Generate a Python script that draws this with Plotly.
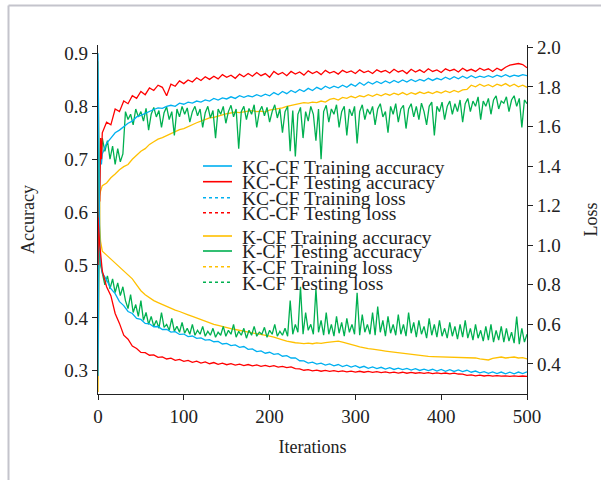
import plotly.graph_objects as go

# ---------------- data ----------------
iterations = [0, 1, 2, 3, 4] + list(range(5, 501, 5))
iterations_kcf_test = [0, 1, 2, 3, 4] + list(range(5, 501, 3))

kccf_train_acc = [0.29, 0.55, 0.68, 0.70, 0.69, 0.71, 0.73, 0.74, 0.75, 0.755, 0.762, 0.768, 0.772, 0.78, 0.783,
                  0.787, 0.79, 0.794, 0.797, 0.796, 0.80, 0.802, 0.80, 0.806, 0.804, 0.808, 0.806, 0.81, 0.808,
                  0.812, 0.81, 0.815, 0.812, 0.816, 0.814, 0.818, 0.815, 0.82, 0.817, 0.82, 0.818, 0.822, 0.819,
                  0.823, 0.82, 0.826, 0.822, 0.828, 0.824, 0.83, 0.826, 0.832, 0.828, 0.834, 0.83, 0.836, 0.832,
                  0.838, 0.834, 0.838, 0.835, 0.84, 0.836, 0.842, 0.838, 0.845, 0.84, 0.846, 0.842, 0.847, 0.843,
                  0.848, 0.844, 0.849, 0.845, 0.85, 0.846, 0.851, 0.847, 0.851, 0.848, 0.853, 0.849, 0.853, 0.85,
                  0.855, 0.851, 0.856, 0.852, 0.857, 0.853, 0.858, 0.854, 0.857, 0.855, 0.858, 0.855, 0.859, 0.856,
                  0.86, 0.856, 0.859, 0.857, 0.86, 0.858]

kccf_test_acc = [0.50, 0.68, 0.62, 0.74, 0.70, 0.75, 0.77, 0.765, 0.795, 0.79, 0.81, 0.805, 0.82, 0.815, 0.828,
                 0.822, 0.835, 0.83, 0.84, 0.836, 0.82, 0.842, 0.838, 0.848, 0.843, 0.85, 0.846, 0.854, 0.849,
                 0.856, 0.851, 0.857, 0.852, 0.86, 0.855, 0.859, 0.853, 0.861, 0.856, 0.862, 0.857, 0.864, 0.858,
                 0.862, 0.855, 0.866, 0.86, 0.864, 0.858, 0.866, 0.861, 0.865, 0.859, 0.867, 0.862, 0.866, 0.86,
                 0.868, 0.863, 0.866, 0.861, 0.868, 0.864, 0.867, 0.862, 0.869, 0.864, 0.867, 0.862, 0.869, 0.865,
                 0.868, 0.863, 0.87, 0.865, 0.868, 0.862, 0.87, 0.865, 0.869, 0.864, 0.871, 0.866, 0.869, 0.864,
                 0.871, 0.867, 0.87, 0.865, 0.872, 0.867, 0.87, 0.866, 0.872, 0.868, 0.871, 0.866, 0.872, 0.868,
                 0.874, 0.878, 0.88, 0.881, 0.879, 0.873]

kccf_train_loss = [1.97, 1.30, 1.00, 0.92, 0.88, 0.86, 0.825, 0.78, 0.755, 0.715, 0.695, 0.665, 0.655, 0.63, 0.625,
                   0.605, 0.603, 0.588, 0.589, 0.574, 0.575, 0.561, 0.563, 0.549, 0.551, 0.538, 0.541, 0.529, 0.532,
                   0.52, 0.523, 0.512, 0.514, 0.501, 0.504, 0.493, 0.496, 0.484, 0.488, 0.474, 0.476, 0.462, 0.466,
                   0.454, 0.459, 0.448, 0.452, 0.439, 0.442, 0.43, 0.431, 0.416, 0.415, 0.404, 0.409, 0.399, 0.404,
                   0.394, 0.40, 0.39, 0.397, 0.387, 0.394, 0.384, 0.391, 0.381, 0.388, 0.378, 0.385, 0.376, 0.383,
                   0.374, 0.381, 0.372, 0.379, 0.371, 0.377, 0.369, 0.376, 0.367, 0.374, 0.366, 0.373, 0.364, 0.372,
                   0.363, 0.371, 0.362, 0.37, 0.361, 0.368, 0.358, 0.364, 0.355, 0.361, 0.352, 0.36, 0.351, 0.359,
                   0.35, 0.358, 0.35, 0.359, 0.351, 0.36]

kccf_test_loss = [1.14, 1.05, 1.00, 0.96, 0.90, 0.87, 0.79, 0.745, 0.655, 0.605, 0.545, 0.525, 0.49, 0.478, 0.458,
                  0.457, 0.444, 0.446, 0.433, 0.436, 0.425, 0.429, 0.418, 0.423, 0.413, 0.418, 0.408, 0.414, 0.404,
                  0.41, 0.401, 0.407, 0.398, 0.404, 0.396, 0.401, 0.394, 0.399, 0.392, 0.397, 0.39, 0.395, 0.388,
                  0.393, 0.386, 0.391, 0.384, 0.388, 0.381, 0.385, 0.376, 0.375, 0.368, 0.371, 0.365, 0.369, 0.363,
                  0.367, 0.362, 0.366, 0.361, 0.365, 0.36, 0.364, 0.359, 0.363, 0.358, 0.362, 0.357, 0.361, 0.356,
                  0.36, 0.355, 0.359, 0.354, 0.358, 0.353, 0.357, 0.353, 0.356, 0.352, 0.356, 0.351, 0.355, 0.351,
                  0.354, 0.35, 0.353, 0.349, 0.348, 0.342, 0.345, 0.34, 0.343, 0.339, 0.342, 0.338, 0.341, 0.338,
                  0.34, 0.337, 0.34, 0.337, 0.339, 0.337]

kcf_train_acc = [0.26, 0.55, 0.63, 0.64, 0.645, 0.65, 0.655, 0.665, 0.672, 0.68, 0.686, 0.69, 0.70, 0.708, 0.715,
                 0.72, 0.728, 0.733, 0.738, 0.741, 0.745, 0.749, 0.752, 0.756, 0.758, 0.762, 0.765, 0.769, 0.772,
                 0.775, 0.778, 0.779, 0.782, 0.784, 0.786, 0.787, 0.789, 0.788, 0.79, 0.791, 0.792, 0.79, 0.791,
                 0.789, 0.793, 0.794, 0.795, 0.797, 0.80, 0.802, 0.804, 0.806, 0.807, 0.806, 0.808, 0.807, 0.81,
                 0.808, 0.813, 0.815, 0.812, 0.817, 0.815, 0.819, 0.816, 0.82, 0.818, 0.822, 0.819, 0.823, 0.82,
                 0.824, 0.821, 0.825, 0.822, 0.826, 0.822, 0.826, 0.823, 0.827, 0.824, 0.827, 0.824, 0.828, 0.825,
                 0.829, 0.826, 0.83, 0.827, 0.831, 0.832, 0.84, 0.837, 0.842, 0.838, 0.841, 0.837, 0.842, 0.839,
                 0.843, 0.838, 0.842, 0.837, 0.84, 0.836]

kcf_test_acc = [0.41, 0.62, 0.68, 0.72, 0.70,
                0.74, 0.715, 0.735, 0.70, 0.725, 0.69, 0.72, 0.695, 0.71,
                0.79, 0.775, 0.785, 0.765, 0.795, 0.78, 0.79, 0.772, 0.796, 0.755, 0.785, 0.798,
                0.78, 0.792, 0.76, 0.788, 0.799, 0.775, 0.79, 0.745, 0.795, 0.78, 0.80, 0.785,
                0.797, 0.77, 0.79, 0.80, 0.782, 0.795, 0.76, 0.788, 0.80, 0.778, 0.792, 0.74,
                0.795, 0.785, 0.80, 0.768, 0.79, 0.802, 0.78, 0.795, 0.72, 0.79, 0.80, 0.775,
                0.796, 0.785, 0.803, 0.76, 0.79, 0.80, 0.782, 0.798, 0.77, 0.79, 0.803, 0.778,
                0.795, 0.75, 0.79, 0.80, 0.715, 0.792, 0.705, 0.785, 0.798, 0.74, 0.79, 0.772,
                0.80, 0.785, 0.735, 0.795, 0.70, 0.79, 0.802, 0.77, 0.795, 0.785, 0.803, 0.76,
                0.79, 0.80, 0.745, 0.795, 0.782, 0.80, 0.73, 0.79, 0.803, 0.775, 0.795, 0.785,
                0.80, 0.765, 0.795, 0.805, 0.78, 0.79, 0.75, 0.80, 0.785, 0.805, 0.77, 0.795,
                0.802, 0.758, 0.795, 0.805, 0.78, 0.80, 0.775, 0.806, 0.79, 0.765, 0.80, 0.808,
                0.745, 0.80, 0.79, 0.808, 0.775, 0.80, 0.81, 0.785, 0.805, 0.79, 0.812, 0.77,
                0.805, 0.815, 0.79, 0.81, 0.80, 0.818, 0.775, 0.81, 0.80, 0.815, 0.785, 0.812,
                0.82, 0.795, 0.81, 0.806, 0.818, 0.79, 0.812, 0.82, 0.80, 0.815, 0.76, 0.812,
                0.805]

kcf_train_loss = [1.93, 1.40, 1.10, 1.02, 0.99, 0.97, 0.95, 0.93, 0.91, 0.89, 0.875, 0.85, 0.83, 0.80, 0.77,
                  0.75, 0.735, 0.72, 0.71, 0.70, 0.69, 0.68, 0.672, 0.665, 0.655, 0.648, 0.64, 0.632, 0.625,
                  0.615, 0.61, 0.60, 0.595, 0.588, 0.582, 0.578, 0.574, 0.57, 0.566, 0.562, 0.558, 0.555, 0.55,
                  0.545, 0.54, 0.535, 0.53, 0.522, 0.515, 0.51, 0.507, 0.505, 0.503, 0.505, 0.502, 0.506, 0.504,
                  0.508, 0.51, 0.512, 0.515, 0.51, 0.503, 0.497, 0.492, 0.486, 0.481, 0.477, 0.475, 0.47, 0.468,
                  0.465, 0.462, 0.46, 0.457, 0.455, 0.45, 0.447, 0.445, 0.443, 0.44, 0.438, 0.437, 0.436, 0.435,
                  0.434, 0.433, 0.433, 0.432, 0.432, 0.431, 0.428, 0.43, 0.425, 0.422, 0.42, 0.428, 0.432, 0.435,
                  0.43, 0.433, 0.435, 0.43, 0.432, 0.425]

kcf_test_loss = [1.72, 1.20, 0.95, 0.90, 0.87,
                 0.86, 0.80, 0.845, 0.78, 0.83, 0.76, 0.81, 0.745, 0.79,
                 0.72, 0.68, 0.75, 0.66, 0.70, 0.64, 0.72, 0.62, 0.66, 0.60, 0.64, 0.59,
                 0.62, 0.58, 0.66, 0.585, 0.60, 0.57, 0.63, 0.565, 0.59, 0.56, 0.61, 0.555,
                 0.58, 0.55, 0.60, 0.545, 0.57, 0.55, 0.59, 0.54, 0.565, 0.545, 0.58, 0.535,
                 0.56, 0.545, 0.59, 0.54, 0.57, 0.55, 0.60, 0.535, 0.565, 0.545, 0.58, 0.53,
                 0.57, 0.545, 0.59, 0.54, 0.56, 0.55, 0.585, 0.535, 0.57, 0.55, 0.60, 0.54,
                 0.565, 0.545, 0.58, 0.54, 0.72, 0.55, 0.60, 0.56, 0.79, 0.55, 0.66, 0.57,
                 0.60, 0.55, 0.78, 0.56, 0.62, 0.545, 0.66, 0.55, 0.60, 0.54, 0.64, 0.555,
                 0.61, 0.54, 0.63, 0.56, 0.60, 0.55, 0.76, 0.545, 0.65, 0.56, 0.60, 0.55,
                 0.66, 0.545, 0.69, 0.56, 0.62, 0.54, 0.64, 0.555, 0.60, 0.545, 0.65, 0.55,
                 0.60, 0.54, 0.66, 0.555, 0.61, 0.535, 0.62, 0.55, 0.59, 0.53, 0.63, 0.545,
                 0.60, 0.535, 0.62, 0.54, 0.58, 0.53, 0.61, 0.54, 0.59, 0.525, 0.60, 0.535,
                 0.62, 0.53, 0.58, 0.52, 0.60, 0.53, 0.57, 0.515, 0.59, 0.52, 0.60, 0.51,
                 0.57, 0.52, 0.59, 0.51, 0.58, 0.515, 0.56, 0.505, 0.64, 0.50, 0.58, 0.51,
                 0.55]

legend_names = ["KC-CF Training accuracy", "KC-CF Testing accuracy", "KC-CF Training loss", "KC-CF Testing loss",
                "K-CF Training accuracy", "K-CF Testing accuracy", "K-CF Training loss", "K-CF Testing loss"]
x_ticks = [0, 100, 200, 300, 400, 500]
acc_ticks = [0.3, 0.4, 0.5, 0.6, 0.7, 0.8, 0.9]
loss_ticks = [0.4, 0.6, 0.8, 1.0, 1.2, 1.4, 1.6, 1.8, 2.0]

# ---------------- styles ----------------
BLUE, RED, YELLOW, GREEN = "#00B0F0", "#FF0000", "#FFC000", "#00B050"
FONT = "Liberation Serif, Times New Roman, serif"
TXT = "#222222"

series = [
    (iterations, kcf_train_acc, YELLOW, "y"), (iterations_kcf_test, kcf_test_acc, GREEN, "y"),
    (iterations, kccf_train_acc, BLUE, "y"), (iterations, kccf_test_acc, RED, "y"),
    (iterations, kcf_train_loss, YELLOW, "y2"), (iterations_kcf_test, kcf_test_loss, GREEN, "y2"),
    (iterations, kccf_train_loss, BLUE, "y2"), (iterations, kccf_test_loss, RED, "y2"),
]

fig = go.Figure()
for xs, vals, col, ax in series:
    fig.add_trace(go.Scatter(x=xs, y=vals, mode="lines", yaxis=ax,
                             line=dict(color=col, width=1.3), showlegend=False,
                             hoverinfo="skip"))

# ---------------- manual legend (compact, like the reference) ----------------
legend_colors = [BLUE, RED, BLUE, RED, YELLOW, GREEN, YELLOW, GREEN]
legend_dash = ["solid", "solid", "dot", "dot", "solid", "solid", "dot", "dot"]
plot_l, plot_r, plot_t, plot_b = 98, 527, 45, 394
pw, ph = plot_r - plot_l, plot_b - plot_t
row_px = [166, 181.7, 197.7, 212.7, 236, 251, 266.7, 282.3]

def px_x(px):
    return (px - plot_l) / pw

def px_y(py):
    return (plot_b - py) / ph

shapes = []
annotations = []
for name, col, dash, ry in zip(legend_names, legend_colors, legend_dash, row_px):
    shapes.append(dict(type="line", xref="paper", yref="paper",
                       x0=px_x(203), x1=px_x(232), y0=px_y(ry), y1=px_y(ry),
                       line=dict(color=col, width=1.6, dash=dash)))
    annotations.append(dict(text=name, xref="paper", yref="paper", x=px_x(239.5), y=px_y(ry + 1),
                            xanchor="left", yanchor="middle", showarrow=False,
                            font=dict(family=FONT, size=19.5, color=TXT)))

# light grey frame (top and left edges) seen in the reference
shapes.append(dict(type="line", xref="paper", yref="paper", x0=px_x(8.5), x1=px_x(601),
                   y0=px_y(5.5), y1=px_y(5.5), line=dict(color="#C4C4CC", width=2)))
shapes.append(dict(type="line", xref="paper", yref="paper", x0=px_x(8.5), x1=px_x(8.5),
                   y0=px_y(5.5), y1=px_y(481), line=dict(color="#C4C4CC", width=2)))

axis_common = dict(showgrid=False, zeroline=False, showline=True, linecolor="#222222", linewidth=1.3,
                   ticks="outside", ticklen=5, tickwidth=1.2, tickcolor="#222222", automargin=False,
                   tickfont=dict(family=FONT, size=19, color=TXT))

fig.update_layout(
    width=601, height=480,
    margin=dict(l=plot_l, r=601 - plot_r, t=plot_t, b=480 - plot_b, autoexpand=False),
    paper_bgcolor="white", plot_bgcolor="white",
    showlegend=False,
    xaxis=dict(range=[0, 500], tickvals=x_ticks,
               title=dict(text="Iterations", font=dict(family=FONT, size=18, color=TXT), standoff=14),
               **axis_common),
    yaxis=dict(range=[0.256, 0.916], tickvals=acc_ticks, tickformat=".1f",
               title=dict(text="Accuracy", font=dict(family=FONT, size=18, color=TXT), standoff=24),
               **axis_common),
    yaxis2=dict(range=[0.248, 2.012], tickvals=loss_ticks, tickformat=".1f", overlaying="y", side="right",
                title=dict(text="Loss", font=dict(family=FONT, size=18, color=TXT), standoff=24),
                **axis_common),
    shapes=shapes,
    annotations=annotations,
)

# remove the browser's default 8px page margin so the 601x480 figure fills the window exactly
fig.write_html("out.html", config={"displayModeBar": False},
               post_script="document.body.style.margin='0';document.body.style.overflow='hidden';")
